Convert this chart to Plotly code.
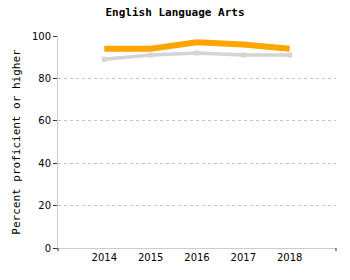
import plotly.graph_objects as go

years = [2014, 2015, 2016, 2017, 2018]
school = [94, 94, 97, 96, 94]
state = [89, 91, 92, 91, 91]
y_ticks = [0, 20, 40, 60, 80, 100]

fig = go.Figure()
fig.add_trace(go.Scatter(x=years, y=state, mode="lines+markers",
                         line=dict(color="#d4d4d4", width=3.5),
                         marker=dict(color="#d4d4d4", size=5, symbol="square"),
                         showlegend=False))
fig.add_trace(go.Scatter(x=years, y=school, mode="lines",
                         line=dict(color="#ffa500", width=6),
                         showlegend=False))

fig.update_layout(
    width=350, height=280,
    margin=dict(l=58, r=14, t=36, b=32),
    paper_bgcolor="white", plot_bgcolor="white",
    title=dict(text="<b>English Language Arts</b>", x=0.5, xanchor="center",
               y=0.955, yanchor="middle",
               font=dict(family="DejaVu Sans Mono", size=11, color="black")),
    xaxis=dict(range=[2013, 2019], tickvals=years, ticktext=[str(y) for y in years],
               showgrid=False, zeroline=False, showline=True, linecolor="#cccccc",
               linewidth=1, ticks="", tickfont=dict(family="DejaVu Sans", size=10, color="black")),
    yaxis=dict(range=[0, 100], tickvals=y_ticks, showgrid=True, gridcolor="#c4c4c4",
               griddash="dot", gridwidth=1, zeroline=False, showline=True,
               linecolor="#cccccc", linewidth=1, ticks="outside", ticklen=4,
               tickcolor="#333333",
               tickfont=dict(family="DejaVu Sans", size=10, color="black"),
               title=dict(text="Percent proficient or higher", standoff=9,
                          font=dict(family="DejaVu Sans Mono", size=11, color="black"))),
)
for xp in [0, 1]:
    fig.add_shape(type="line", xref="paper", yref="paper", x0=xp, x1=xp,
                  y0=0, y1=-0.015, line=dict(color="#333333", width=1))

fig.write_html("out.html")
